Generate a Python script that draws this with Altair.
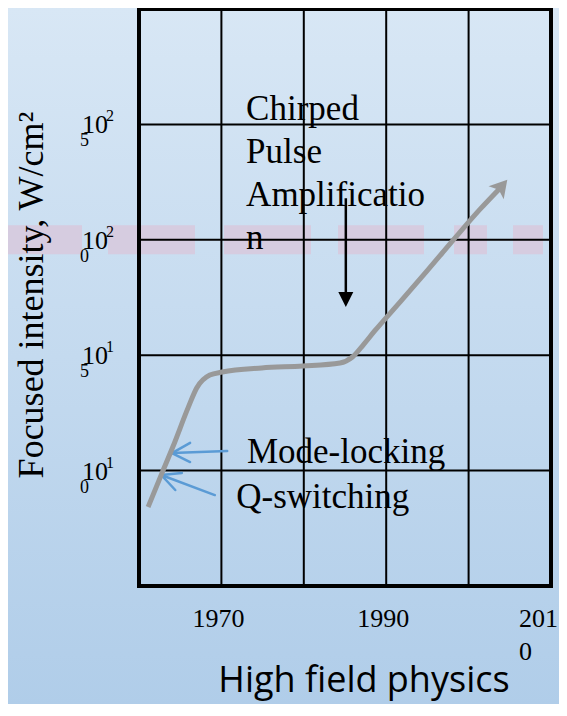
import altair as alt
import pandas as pd

# ---------------- data ----------------
# main curve: year vs log10(focused intensity, W/cm^2)
years = [1961.1, 1962.8, 1964.1, 1966.0, 1967.0, 1968.6, 1970.1, 1974.9, 1979.9,
         1984.4, 1985.9, 1987.2, 1988.6, 1991.7, 1996.5, 2001.4, 2003.9]
log_intensity = [8.42, 9.90, 11.02, 12.76, 13.58, 14.14, 14.27, 14.45, 14.53,
                 14.66, 14.92, 15.44, 16.05, 17.31, 19.30, 21.33, 22.27]

grid_years = [1970, 1980, 1990, 2000]
grid_levels = [10, 15, 20, 25]

xtick_years = [1970, 1990]
xtick_labels = ["1970", "1990"]
xtick_wrapped_year = [2010]
xtick_wrapped_label = ["201\n0"]

ytick_levels = [10, 15, 20, 25]
ytick_base = ["10", "10", "10", "10"]
ytick_sup = ["1", "1", "2", "2"]
ytick_wrap = ["0", "5", "0", "5"]

band_level = [20]

notes = ["Chirped\nPulse\nAmplificatio\nn", "Mode-locking", "Q-switching"]
note_year = [1973.0, 1973.1, 1971.8]
note_level = [25.19, 10.33, 8.38]

# blue pointer arrows (shaft + two barbs each)
blue_x = [1970.7, 1964.0, 1964.0, 1969.2, 1962.7, 1962.7]
blue_y = [10.85, 10.76, 10.76, 8.94, 9.81, 9.81]
blue_x2 = [1964.0, 1966.2, 1966.2, 1962.7, 1965.2, 1964.4]
blue_y2 = [10.76, 11.20, 10.37, 9.81, 9.90, 9.16]

# black CPA arrow
cpa_year = [1985.1]
cpa_top = [21.8]
cpa_bottom = [17.6]
cpa_head = [17.41]

W, H = 412, 577
FONT = "Liberation Serif"

xs = alt.Scale(domain=[1960, 2010], nice=False, zero=False)
ys = alt.Scale(domain=[5, 30], nice=False, zero=False)

one = pd.DataFrame({"k": [0]})

bg = alt.Chart(one).mark_rect(
    color=alt.Gradient(
        gradient="linear",
        stops=[alt.GradientStop(color="#d8e7f5", offset=0),
               alt.GradientStop(color="#b0cde9", offset=1)],
        x1=0, x2=0, y1=0, y2=1),
).encode(x=alt.value(-140), x2=alt.value(W + 10), y=alt.value(-2), y2=alt.value(H + 120))

band = alt.Chart(pd.DataFrame({"lvl": band_level})).mark_rule(
    color="#d6cce0", strokeWidth=29,
    strokeDash=[87, 26, 87, 29, 87, 27, 86, 30, 33, 26, 30, 300],
).encode(x=alt.value(-144), x2=alt.value(404),
         y=alt.Y("lvl:Q", scale=ys, axis=None))

vgrid = alt.Chart(pd.DataFrame({"yr": grid_years})).mark_rule(
    color="black", strokeWidth=2
).encode(x=alt.X("yr:Q", scale=xs, axis=None), y=alt.value(0), y2=alt.value(H))

hgrid = alt.Chart(pd.DataFrame({"lvl": grid_levels})).mark_rule(
    color="black", strokeWidth=2
).encode(y=alt.Y("lvl:Q", scale=ys, axis=None), x=alt.value(0), x2=alt.value(W))

frame = alt.Chart(one).mark_rect(
    fillOpacity=0, stroke="black", strokeWidth=4
).encode(x=alt.value(0), x2=alt.value(W), y=alt.value(0), y2=alt.value(H))

xlab = alt.Chart(pd.DataFrame({"yr": xtick_years, "t": xtick_labels})).mark_text(
    font=FONT, fontSize=26, align="center", baseline="alphabetic", color="black", dx=-3
).encode(x=alt.X("yr:Q", scale=xs, axis=None), y=alt.value(H + 41), text="t:N")

xlab2 = alt.Chart(pd.DataFrame({"yr": xtick_wrapped_year, "t": xtick_wrapped_label})).mark_text(
    font=FONT, fontSize=26, align="left", baseline="alphabetic", color="black",
    lineBreak="\n", lineHeight=33, dx=-32
).encode(x=alt.X("yr:Q", scale=xs, axis=None), y=alt.value(H + 41), text="t:N")

ydf = pd.DataFrame({"lvl": ytick_levels, "b": ytick_base, "s": ytick_sup, "w": ytick_wrap})
ylab_base = alt.Chart(ydf).mark_text(
    font=FONT, fontSize=26, align="left", baseline="alphabetic", color="black", dy=9
).encode(y=alt.Y("lvl:Q", scale=ys, axis=None), x=alt.value(-57), text="b:N")
ylab_sup = alt.Chart(ydf).mark_text(
    font=FONT, fontSize=16, align="left", baseline="alphabetic", color="black", dy=-3
).encode(y=alt.Y("lvl:Q", scale=ys, axis=None), x=alt.value(-33), text="s:N")
ylab_wrap = alt.Chart(ydf).mark_text(
    font=FONT, fontSize=18, align="left", baseline="alphabetic", color="black", dy=22
).encode(y=alt.Y("lvl:Q", scale=ys, axis=None), x=alt.value(-59), text="w:N")

ytitle = alt.Chart(one).mark_text(
    font=FONT, fontSize=36, angle=270, align="center", baseline="alphabetic",
    color="black", text="Focused intensity, W/cm²"
).encode(x=alt.value(-96), y=alt.value(286))

xtitle = alt.Chart(one).mark_text(
    font="Open Sans", fontSize=36, align="center", baseline="alphabetic",
    color="black", text="High field physics"
).encode(x=alt.value(225), y=alt.value(683))

notes_layer = alt.Chart(pd.DataFrame({"t": notes, "yr": note_year, "lvl": note_level})).mark_text(
    font=FONT, fontSize=35, align="left", baseline="alphabetic", color="black",
    lineBreak="\n", lineHeight=43
).encode(x=alt.X("yr:Q", scale=xs, axis=None), y=alt.Y("lvl:Q", scale=ys, axis=None), text="t:N")

blue = alt.Chart(pd.DataFrame({"x": blue_x, "y": blue_y, "x2": blue_x2, "y2": blue_y2})).mark_rule(
    color="#5b9bd5", strokeWidth=2.5, strokeCap="round"
).encode(x=alt.X("x:Q", scale=xs, axis=None), y=alt.Y("y:Q", scale=ys, axis=None),
         x2="x2:Q", y2="y2:Q")

cpa_df = pd.DataFrame({"yr": cpa_year, "top": cpa_top, "bot": cpa_bottom, "head": cpa_head})
cpa_shaft = alt.Chart(cpa_df).mark_rule(color="black", strokeWidth=2.5).encode(
    x=alt.X("yr:Q", scale=xs, axis=None), y=alt.Y("top:Q", scale=ys, axis=None), y2="bot:Q")
cpa_tip = alt.Chart(cpa_df).mark_point(
    shape="M-1,-1L1,-1L0,1Z", size=225, filled=True, color="black", opacity=1
).encode(x=alt.X("yr:Q", scale=xs, axis=None), y=alt.Y("head:Q", scale=ys, axis=None))

curve_df = pd.DataFrame({"yr": years, "lvl": log_intensity})
curve = alt.Chart(curve_df).mark_line(
    color="#999999", strokeWidth=5, interpolate="monotone", strokeCap="butt", strokeJoin="round"
).encode(x=alt.X("yr:Q", scale=xs, axis=None), y=alt.Y("lvl:Q", scale=ys, axis=None))

curve_tip = alt.Chart(curve_df.tail(1)).mark_point(
    shape="M0,-1L1,0.7L0,0.3L-1,0.7Z", size=400, filled=True, color="#999999",
    opacity=1, angle=41
).encode(x=alt.X("yr:Q", scale=xs, axis=None), y=alt.Y("lvl:Q", scale=ys, axis=None))

chart = alt.layer(
    bg, band, vgrid, hgrid, frame, xlab, xlab2, ylab_base, ylab_sup, ylab_wrap,
    ytitle, xtitle, notes_layer, blue, cpa_shaft, cpa_tip, curve, curve_tip
).properties(
    width=W, height=H,
    autosize=alt.AutoSizeParams(type="none"),
    padding={"left": 131, "top": 1, "right": 8, "bottom": 118},
    background="#c4dbf0",
).configure_view(stroke=None)

chart.save("out.html", embed_options={"renderer": "svg", "actions": False})
